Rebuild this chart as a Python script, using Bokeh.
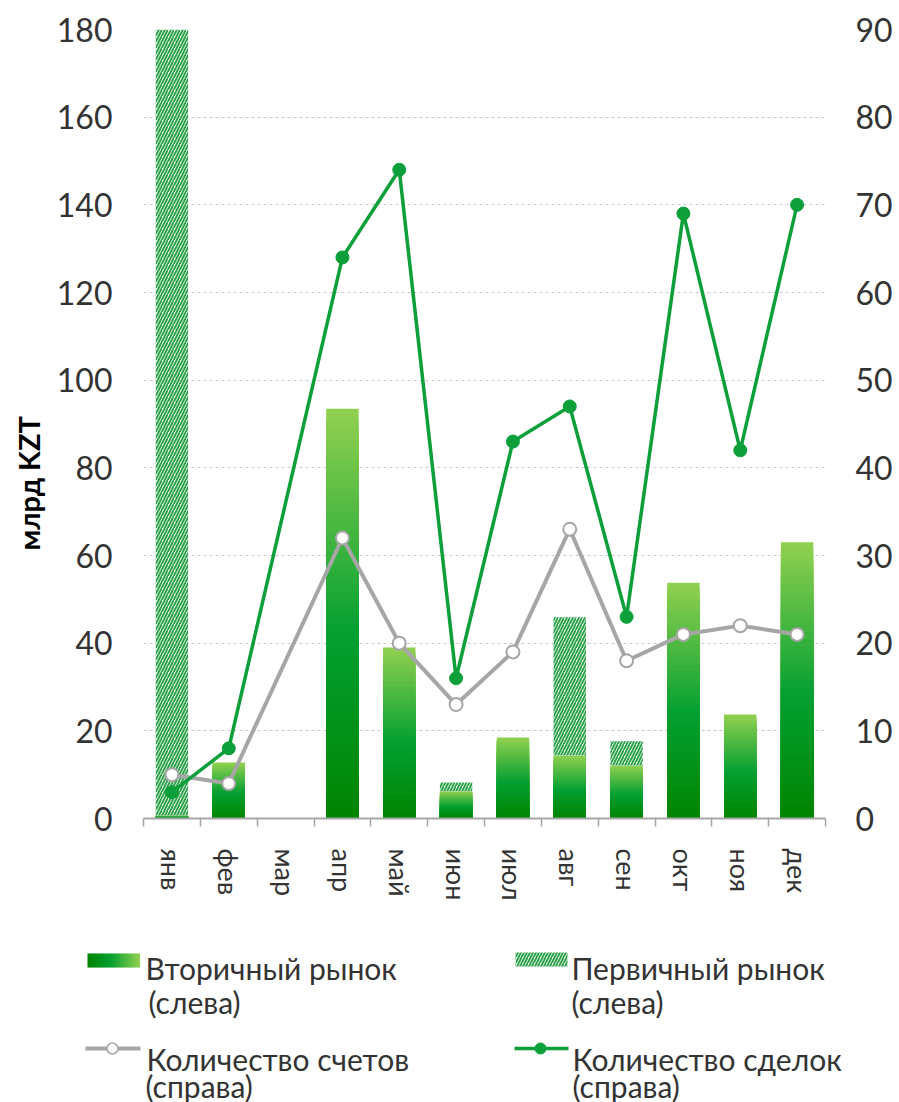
import math
from bokeh.plotting import figure
from bokeh.models import Range1d, LinearAxis, FixedTicker, Title
from bokeh.layouts import column
from bokeh.embed import file_html
from bokeh.resources import INLINE
from bokeh.core.properties import value

# ---------------- data ----------------
months = ["янв", "фев", "мар", "апр", "май", "июн", "июл", "авг", "сен", "окт", "ноя", "дек"]
secondary = [0.7, 12.8, 0, 93.5, 39.0, 6.2, 18.5, 14.4, 12.1, 53.8, 23.7, 63.0]   # Вторичный рынок, млрд KZT
primary = [179.3, 0, 0, 0, 0, 2.0, 0, 31.5, 5.5, 0, 0, 0]                         # Первичный рынок, млрд KZT
accounts = [5, 4, None, 32, 20, 13, 19, 33, 18, 21, 22, 21]                       # Количество счетов
deals = [3, 8, None, 64, 74, 16, 43, 47, 23, 69, 42, 70]                          # Количество сделок
left_ticks = [0, 20, 40, 60, 80, 100, 120, 140, 160, 180]
right_ticks = [0, 10, 20, 30, 40, 50, 60, 70, 80, 90]

FONT = "Lato"
GFONT = value("Lato")
TXT = "#333333"
GREEN = "#0c9f3a"
GRAY = "#a6a6a6"
HATCH = "#2fa34c"


def hex2rgb(h):
    return tuple(int(h[i:i + 2], 16) for i in (1, 3, 5))


STOPS = [(0.0, "#008400"), (0.45, "#04a032"), (1.0, "#92d050")]


def grad(t):
    for (t0, c0), (t1, c1) in zip(STOPS, STOPS[1:]):
        if t <= t1:
            f = (t - t0) / (t1 - t0)
            a, b = hex2rgb(c0), hex2rgb(c1)
            return "#%02x%02x%02x" % tuple(round(a[i] + (b[i] - a[i]) * f) for i in range(3))
    return STOPS[-1][1]


# ---------------- main chart ----------------
p = figure(width=899, height=915, x_range=Range1d(0.5, 12.5), y_range=Range1d(0, 180),
           toolbar_location=None, output_backend="svg", frame_align=False,
           min_border_left=143, min_border_right=74, min_border_top=29, min_border_bottom=97)
p.outline_line_color = None
p.background_fill_color = "white"

xs = [i + 1 for i in range(len(months))]

# gradient bars for secondary market (slices drawn tallest first)
N = 40
gx, gtop, gcol = [], [], []
for k in range(N - 1, -1, -1):
    for x, v in zip(xs, secondary):
        if v > 0:
            gx.append(x)
            gtop.append(v * (k + 1) / N)
            gcol.append(grad((k + 0.5) / N))
p.vbar(x=gx, bottom=0, top=gtop, width=0.57, fill_color=gcol, line_color=None)

# hatched primary market, stacked on top
hx = [x for x, v in zip(xs, primary) if v > 0]
hb = [s for s, v in zip(secondary, primary) if v > 0]
ht = [s + v for s, v in zip(secondary, primary) if v > 0]
p.vbar(x=hx, bottom=hb, top=ht, width=0.57, fill_color="white", line_color=None,
       hatch_pattern="/", hatch_color=HATCH, hatch_scale=6, hatch_weight=2.0)

# right axis
p.extra_y_ranges = {"r": Range1d(0, 90)}

ax_x = [x for x, v in zip(xs, accounts) if v is not None]
ax_y = [v for v in accounts if v is not None]
dl_x = [x for x, v in zip(xs, deals) if v is not None]
dl_y = [v for v in deals if v is not None]

p.line(ax_x, ax_y, y_range_name="r", line_color=GRAY, line_width=4)
p.scatter(ax_x, ax_y, y_range_name="r", marker="circle", size=13, fill_color="white",
          line_color=GRAY, line_width=2)
p.line(dl_x, dl_y, y_range_name="r", line_color=GREEN, line_width=3.5)
p.scatter(dl_x, dl_y, y_range_name="r", marker="circle", size=13, fill_color=GREEN,
          line_color=GREEN)

# x axis
xa = p.xaxis[0]
xa.ticker = FixedTicker(ticks=xs, minor_ticks=[x - 0.5 for x in xs] + [12.5])
xa.major_label_overrides = {x: m for x, m in zip(xs, months)}
xa.axis_line_color = GRAY
xa.axis_line_width = 2
xa.major_tick_line_color = None
xa.major_tick_out = 0
xa.major_tick_in = 0
xa.minor_tick_line_color = GRAY
xa.minor_tick_line_width = 1.5
xa.minor_tick_out = 8
xa.minor_tick_in = 0
xa.major_label_orientation = "vertical"
xa.major_label_text_font = FONT
xa.major_label_text_font_size = "27px"
xa.major_label_text_color = TXT
xa.major_label_standoff = 22

# left axis
ya = p.yaxis[0]
ya.ticker = FixedTicker(ticks=left_ticks)
ya.axis_line_color = None
ya.major_tick_line_color = None
ya.minor_tick_line_color = None
ya.major_tick_out = 0
ya.major_tick_in = 0
ya.major_label_text_font = FONT
ya.major_label_text_font_size = "32px"
ya.major_label_text_color = TXT
ya.major_label_standoff = 31

ra = LinearAxis(y_range_name="r", ticker=FixedTicker(ticks=right_ticks))
ra.axis_line_color = None
ra.major_tick_line_color = None
ra.minor_tick_line_color = None
ra.major_tick_out = 0
ra.major_tick_in = 0
ra.major_label_text_font = FONT
ra.major_label_text_font_size = "32px"
ra.major_label_text_color = TXT
ra.major_label_standoff = 30
p.add_layout(ra, "right")

p.xgrid.visible = False
p.ygrid.ticker = FixedTicker(ticks=left_ticks[1:])
p.ygrid.grid_line_color = "#c8c8c8"
p.ygrid.grid_line_dash = "3 3"
p.ygrid.grid_line_width = 1

p.add_layout(Title(text="млрд KZT", align="left", offset=268, vertical_align="middle",
                   text_font=FONT, text_font_style="bold", text_font_size="29px",
                   text_color="black", standoff=14), "left")

# ---------------- legend ----------------
lg = figure(width=899, height=187, x_range=Range1d(0, 899), y_range=Range1d(0, 187),
            toolbar_location=None, output_backend="svg", min_border=0, frame_align=False,
            x_axis_location=None, y_axis_location=None)
lg.outline_line_color = None
lg.grid.visible = False

M = 26
sw_l, sw_r, sw_c = [], [], []
for k in range(M):
    sw_l.append(87 + 52 * k / M)
    sw_r.append(87 + 52 * (k + 1) / M + 0.6)
    sw_c.append(grad((k + 0.5) / M))
lg.quad(left=sw_l, right=sw_r, bottom=135, top=149, fill_color=sw_c, line_color=None)

lg.quad(left=[515], right=[567], bottom=[136], top=[150], fill_color="white", line_color=None,
        hatch_pattern="/", hatch_color=HATCH, hatch_scale=6, hatch_weight=2.0)

lg.line([85, 140], [54, 54], line_color=GRAY, line_width=4)
lg.scatter([112], [54], marker="circle", size=11, fill_color="white", line_color=GRAY, line_width=1.5)
lg.line([514, 568], [54, 54], line_color=GREEN, line_width=3.5)
lg.scatter([540], [54], marker="circle", size=11, fill_color=GREEN, line_color=GREEN)

lg.text(x=[145, 148, 571, 571, 146, 145, 572, 572],
        y=[135, 101, 135, 101, 44, 17, 44, 17],
        text=["Вторичный рынок", "(слева)", "Первичный рынок", "(слева)",
              "Количество счетов", "(справа)", "Количество сделок", "(справа)"],
        text_font=GFONT, text_font_size="30px", text_color=TXT, text_baseline="alphabetic")

layout = column(p, lg, spacing=0)
open("out.html", "w").write(file_html(layout, INLINE))
